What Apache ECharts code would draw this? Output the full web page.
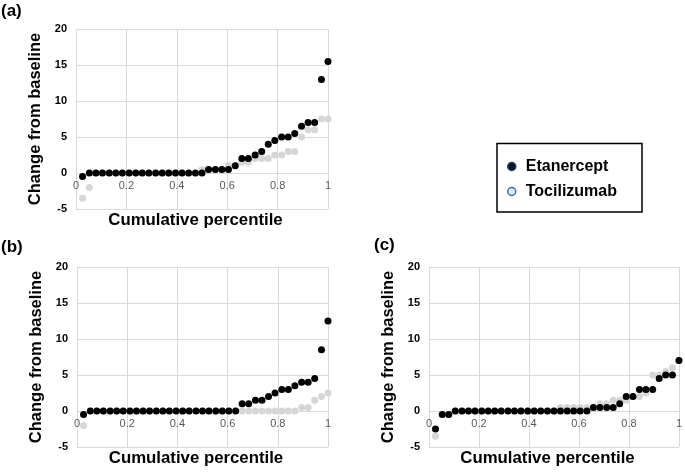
<!DOCTYPE html>
<html>
<head>
<meta charset="utf-8">
<script src="https://cdn.jsdelivr.net/npm/echarts@6/dist/echarts.min.js"></script>
<style>html,body{margin:0;padding:0;background:#fff}#c{width:685px;height:472px}</style>
</head>
<body>
<div id="c"></div>
<script>
const percentile = [0.026,0.053,0.079,0.105,0.132,0.158,0.184,0.211,0.237,0.263,0.289,0.316,0.342,0.368,0.395,0.421,0.447,0.474,0.5,0.526,0.553,0.579,0.605,0.632,0.658,0.684,0.711,0.737,0.763,0.789,0.816,0.842,0.868,0.895,0.921,0.947,0.974,1];

const etanerceptA = [-0.5,0,0,0,0,0,0,0,0,0,0,0,0,0,0,0,0,0,0,0.5,0.5,0.5,0.5,1,2,2,2.5,3,4,4.5,5,5,5.5,6.5,7,7,13,15.5];
const tocilizumabA = [-3.5,-2,0,0,0,0,0,0,0,0,0,0,0,0,0,0,0,0,0.5,0.5,0.5,0.5,1,1,1.5,1.5,2,2,2,2.5,2.5,3,3,5,6,6,7.5,7.5];

const etanerceptB = [-0.5,0,0,0,0,0,0,0,0,0,0,0,0,0,0,0,0,0,0,0,0,0,0,0,1,1,1.5,1.5,2,2.5,3,3,3.5,4,4,4.5,8.5,12.5];
const tocilizumabB = [-2,0,0,0,0,0,0,0,0,0,0,0,0,0,0,0,0,0,0,0,0,0,0,0,0,0,0,0,0,0,0,0,0,0.5,0.5,1.5,2,2.5];

const etanerceptC = [-2.5,-0.5,-0.5,0,0,0,0,0,0,0,0,0,0,0,0,0,0,0,0,0,0,0,0,0,0.5,0.5,0.5,0.5,1,2,2,3,3,3,4.5,5,5,7];
const tocilizumabC = [-3.5,-0.5,-0.5,0,0,0,0,0,0,0,0,0,0,0,0,0,0,0,0,0.5,0.5,0.5,0.5,0.5,0.5,1,1,1.5,1.5,1.5,2,2,2.5,5,5,5.5,6,7];

const panelLabels = ['(a)','(b)','(c)'];
const seriesNames = ['Etanercept','Tocilizumab'];
const xTicks = {min:0, max:1, interval:0.2};
const yTicks = {min:-5, max:20, interval:5};
const xName = 'Cumulative percentile';
const yName = 'Change from baseline';

const FONT = '"Liberation Sans", Arial, sans-serif';
const pair = (xs, ys) => xs.map((x, i) => [x, ys[i]]);

const grids = [
  {left:76, top:29, width:252, height:180},
  {left:77, top:267, width:251, height:180},
  {left:429, top:267, width:253, height:180}
];

// x axis crosses at y = 0: shift it up from the grid bottom by the height of the [min, 0] span
const zeroOffset = g => -((0 - yTicks.min) / (yTicks.max - yTicks.min)) * g.height;

const xAxes = grids.map((g, i) => ({
  type:'value', gridIndex:i, min:xTicks.min, max:xTicks.max, interval:xTicks.interval,
  offset: zeroOffset(g),
  axisLine:{show:true, onZero:false, lineStyle:{color:'#d9d9d9', width:1}},
  axisTick:{show:false},
  axisLabel:{color:'#595959', fontSize:11, fontFamily:FONT, margin:7, showMinLabel:true, showMaxLabel:true},
  splitLine:{show:true, lineStyle:{color:'#d9d9d9', width:1}},
  name:xName, nameLocation:'middle',
  nameGap:39,
  nameTextStyle:{color:'#000', fontSize:16.8, fontWeight:'bold', fontFamily:FONT, padding:[0,13,0,0]}
}));

const yAxes = grids.map((g, i) => ({
  type:'value', gridIndex:i, min:yTicks.min, max:yTicks.max, interval:yTicks.interval,
  axisLine:{show:false, onZero:false}, axisTick:{show:false},
  axisLabel:{color:'#000', fontSize:11, fontWeight:'bold', fontFamily:FONT, margin:9},
  splitLine:{show:true, lineStyle:{color:'#d9d9d9', width:1}},
  name:yName, nameLocation:'middle', nameGap:32,
  nameTextStyle:{color:'#000', fontSize:16.5, fontWeight:'bold', fontFamily:FONT}
}));

const data = [[etanerceptA, tocilizumabA],[etanerceptB, tocilizumabB],[etanerceptC, tocilizumabC]];
const series = [];
data.forEach((d, i) => {
  series.push({name:seriesNames[1], type:'scatter', xAxisIndex:i, yAxisIndex:i, symbolSize:7,
    itemStyle:{color:'#d6d6d6', opacity:1}, data:pair(percentile, d[1]), z:2, silent:true});
});
data.forEach((d, i) => {
  series.push({name:seriesNames[0], type:'scatter', xAxisIndex:i, yAxisIndex:i, symbolSize:7,
    itemStyle:{color:'#000', opacity:1}, data:pair(percentile, d[0]), z:3, silent:true});
});

const chart = echarts.init(document.getElementById('c'), null, {renderer:'canvas'});
chart.setOption({
  animation:false,
  backgroundColor:'#fff',
  grid:grids,
  xAxis:xAxes,
  yAxis:yAxes,
  series:series,
  legend:{
    orient:'vertical', left:507, top:158.5, padding:0, itemWidth:18, itemHeight:8, itemGap:9,
    icon:'circle',
    textStyle:{color:'#000', fontSize:16, fontWeight:'bold', fontFamily:FONT},
    data:[
      {name:seriesNames[0], itemStyle:{color:'#0b1424', borderColor:'#1f3a63', borderWidth:1.5, opacity:1}},
      {name:seriesNames[1], itemStyle:{color:'#dfe6ee', borderColor:'#41719c', borderWidth:1.5, opacity:1}}
    ]
  },
  graphic:[
    {type:'rect', shape:{x:497, y:143.5, width:145, height:68.5}, style:{fill:'none', stroke:'#000', lineWidth:1.5}},
    {type:'text', left:1, top:3, style:{text:panelLabels[0], font:'bold 17px ' + FONT, fill:'#000'}},
    {type:'text', left:1, top:239, style:{text:panelLabels[1], font:'bold 17px ' + FONT, fill:'#000'}},
    {type:'text', left:374, top:237, style:{text:panelLabels[2], font:'bold 17px ' + FONT, fill:'#000'}}
  ]
});
</script>
</body>
</html>
